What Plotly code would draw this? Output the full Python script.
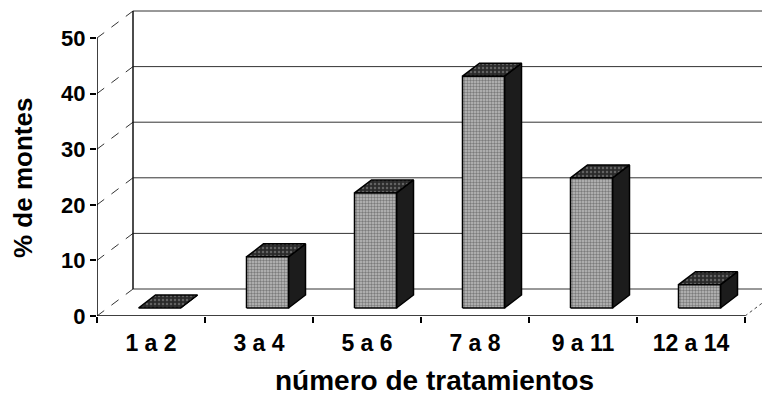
import plotly.graph_objects as go

categories = ["1 a 2", "3 a 4", "5 a 6", "7 a 8", "9 a 11", "12 a 14"]
values = [0, 9.2, 20.7, 41.7, 23.4, 4.2]
y_ticks = [0, 10, 20, 30, 40, 50]

# page geometry (the page body adds an 8px margin around the figure)
PAGE_OFF = 8
W, H = 770 - PAGE_OFF, 402 - PAGE_OFF
ML, MR, MT = 97 - PAGE_OFF, 0, 10 - PAGE_OFF
MB = H - (316 - PAGE_OFF)
PX_CAT = 108.0
PX_UNIT = 5.56
PW, PH = W - ML - MR, H - MT - MB
XR = [-0.5, -0.5 + PW / PX_CAT]
YR = [0, PH / PX_UNIT]
DX, DY = 36 / PX_CAT, 27 / PX_UNIT          # floor depth
OFFX, OFFY = 8.5 / PX_CAT, 8 / PX_UNIT      # bar front offset into depth
BW = 42 / PX_CAT                             # bar width
BDX, BDY = 17 / PX_CAT, 13 / PX_UNIT         # bar depth

fig = go.Figure()
n = len(categories)
xs = list(range(n))
ymax = y_ticks[-1]

shapes = []
grid = dict(color="#333333", width=1)
for t in y_ticks:
    shapes.append(dict(type="line", x0=-0.5 + DX, y0=t + DY, x1=XR[1] + 1, y1=t + DY, line=grid, layer="below"))
    shapes.append(dict(type="line", x0=-0.5, y0=t, x1=-0.5 + DX, y1=t + DY,
                       line=dict(color="#333333", width=1, dash="dash"), layer="below"))
shapes.append(dict(type="line", x0=-0.5 + DX, y0=DY, x1=-0.5 + DX, y1=ymax + DY,
                   line=dict(color="#111", width=1.5), layer="below"))
shapes.append(dict(type="line", x0=-0.5, y0=0, x1=-0.5, y1=ymax, line=dict(color="#000", width=1.5)))
shapes.append(dict(type="line", x0=-0.5, y0=0, x1=n - 0.5, y1=0, line=dict(color="#000", width=1.5)))
shapes.append(dict(type="line", x0=n - 0.5, y0=0, x1=n - 0.5 + DX, y1=DY,
                   line=dict(color="#444", width=1, dash="dot"), layer="below"))

for i, v in zip(xs, values):
    x0 = i - BW / 2 + OFFX
    x1 = x0 + BW
    y0 = OFFY
    y1 = OFFY + v
    fig.add_trace(go.Scatter(
        x=[x1, x1 + BDX, x1 + BDX, x1, x1], y=[y0, y0 + BDY, y1 + BDY, y1, y0],
        mode="lines", fill="toself", fillcolor="#1c1c1c",
        line=dict(color="#000", width=1.5), hoverinfo="skip", showlegend=False))
    fig.add_trace(go.Scatter(
        x=[x0, x1, x1 + BDX, x0 + BDX, x0], y=[y1, y1, y1 + BDY, y1 + BDY, y1],
        mode="lines", fill="toself", fillcolor="#2a2a2a",
        fillpattern=dict(shape=".", fgcolor="#9a9a9a", bgcolor="#2a2a2a", size=4, solidity=0.3),
        line=dict(color="#000", width=1.5), hoverinfo="skip", showlegend=False))
    if v > 0:
        fig.add_trace(go.Scatter(
            x=[x0, x1, x1, x0, x0], y=[y0, y0, y1, y1, y0],
            mode="lines", fill="toself", fillcolor="#a8a8a8",
            fillpattern=dict(shape=".", fgcolor="#3a3a3a", bgcolor="#bdbdbd", size=3, solidity=0.5),
            line=dict(color="#000", width=1.5), hoverinfo="skip", showlegend=False))

font_family = "Arial, Liberation Sans, sans-serif"
fig.update_layout(
    width=W, height=H,
    margin=dict(l=ML, r=MR, t=MT, b=MB, autoexpand=False),
    paper_bgcolor="white", plot_bgcolor="white",
    font=dict(family=font_family, color="#000", size=22, weight="bold"),
    shapes=shapes,
    xaxis=dict(range=XR, tickvals=xs, ticktext=categories, showgrid=False, zeroline=False,
               showline=False, ticks="", ticklabelstandoff=11, automargin=False,
               minor=dict(tickvals=[i - 0.5 for i in range(n + 1)], ticks="outside", ticklen=6,
                          tickcolor="#000", tickwidth=1.5, showgrid=False),
               tickfont=dict(size=23, weight="bold")),
    yaxis=dict(range=YR, tickvals=y_ticks, showgrid=False, zeroline=False, showline=False,
               ticks="outside", ticklen=6, tickcolor="#000", tickwidth=1.5, automargin=False,
               tickfont=dict(size=22, weight="bold")),
    annotations=[
        dict(text="% de montes", xref="paper", yref="paper",
             x=(23 - PAGE_OFF - ML) / PW, y=(H - MB - (178 - PAGE_OFF)) / PH,
             xanchor="center", yanchor="middle",
             textangle=-90, showarrow=False, font=dict(size=26, weight="bold")),
        dict(text="número de tratamientos", xref="paper", yref="paper",
             x=(434 - PAGE_OFF - ML) / PW, y=-((380 - PAGE_OFF) - (H - MB)) / PH,
             xanchor="center", yanchor="middle",
             showarrow=False, font=dict(size=28, weight="bold")),
    ],
)

fig.write_html("out.html")
